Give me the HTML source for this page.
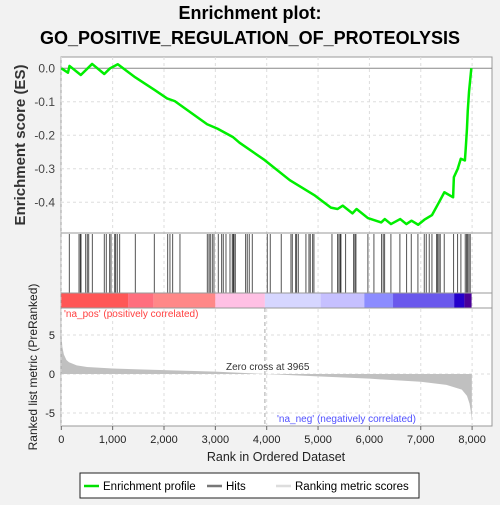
<!DOCTYPE html>
<html><head><meta charset="utf-8"><style>
body{margin:0;background:#f2f2f2;width:500px;height:500px;overflow:hidden;font-family:"Liberation Sans",sans-serif}
</style></head><body>
<svg id="c" width="500" height="500" xmlns="http://www.w3.org/2000/svg" font-family="Liberation Sans, sans-serif">
<text x="250" y="19" text-anchor="middle" font-size="18" font-weight="bold">Enrichment plot:</text>
<text x="250" y="44" text-anchor="middle" font-size="18" font-weight="bold">GO_POSITIVE_REGULATION_OF_PROTEOLYSIS</text>
<rect x="61" y="57" width="431" height="369" fill="#fff" stroke="#999"/>
<g id="grid"></g><g id="marks"></g><g id="axes"></g>
<text transform="translate(25,145) rotate(-90)" text-anchor="middle" font-size="15" font-weight="bold" fill="#333">Enrichment score (ES)</text>
<text transform="translate(37,367) rotate(-90)" text-anchor="middle" font-size="12" fill="#222">Ranked list metric (PreRanked)</text>
<text x="276" y="461" text-anchor="middle" font-size="12.5" fill="#222">Rank in Ordered Dataset</text>
<text x="64" y="317" font-size="10" fill="#ff4040">'na_pos' (positively correlated)</text>
<text x="277" y="422" font-size="10" fill="#5050ff">'na_neg' (negatively correlated)</text>
<text x="226" y="370" font-size="10" fill="#333">Zero cross at 3965</text>
<g>
<rect x="80" y="473" width="339" height="25" fill="#fff" stroke="#222"/>
<line x1="84" y1="486" x2="99" y2="486" stroke="#00e000" stroke-width="2.5"/>
<text x="103" y="490" font-size="11.5">Enrichment profile</text>
<line x1="207" y1="486" x2="222" y2="486" stroke="#777" stroke-width="2.5"/>
<text x="226" y="490" font-size="11.5">Hits</text>
<line x1="276" y1="486" x2="291" y2="486" stroke="#ddd" stroke-width="2.5"/>
<text x="295" y="490" font-size="11.5">Ranking metric scores</text>
</g>
</svg>
<script>
const xTicks=[0,1000,2000,3000,4000,5000,6000,7000,8000];
const xTickLabels=["0","1,000","2,000","3,000","4,000","5,000","6,000","7,000","8,000"];
const esTicks=[0,-0.1,-0.2,-0.3,-0.4];
const esTickLabels=["0.0","-0.1","-0.2","-0.3","-0.4"];
const metricTicks=[5,0,-5];
const hitRanks=[156,345,370,384,475,506,534,604,837,876,942,968,1040,1059,1090,1137,1441,1811,2072,2116,2169,2311,2843,2876,2901,2940,2973,3057,3123,3154,3207,3285,3329,3349,3363,3388,3590,3621,3660,3719,4011,4069,4283,4472,4498,4564,4583,4615,4764,4823,4848,4895,4920,5271,5381,5407,5432,5446,5537,5693,5718,5738,5971,6088,6238,6269,6297,6419,6594,6725,6815,6945,7068,7107,7165,7218,7309,7329,7354,7379,7457,7640,7718,7782,7866,7893,7913,7938,7963];
const esRanks=[0,130,160,380,600,837,950,1100,1440,1820,2060,2210,2840,3040,3340,3470,3960,4450,4940,5250,5380,5480,5670,5750,5970,6230,6300,6420,6600,6720,6820,6950,7070,7220,7355,7460,7630,7645,7720,7780,7860,7880,7900,7915,7940,7985];
const esValues=[0,-0.013,0.007,-0.02,0.013,-0.017,0,0.012,-0.027,-0.065,-0.09,-0.098,-0.167,-0.18,-0.205,-0.222,-0.274,-0.334,-0.38,-0.416,-0.42,-0.41,-0.433,-0.42,-0.447,-0.46,-0.45,-0.465,-0.45,-0.465,-0.455,-0.467,-0.452,-0.438,-0.40,-0.37,-0.385,-0.325,-0.30,-0.27,-0.275,-0.23,-0.18,-0.128,-0.07,0];
const metricRanks=[0,20,50,100,150,300,500,1000,2000,3000,3965,5000,6000,7000,7500,7800,7900,7950,7980,7995];
const metricValues=[5.3,3.5,2.5,1.8,1.5,1.1,0.9,0.7,0.5,0.3,0,-0.3,-0.6,-1.0,-1.4,-2.0,-2.8,-3.8,-5,-6];
const bandStops=[0,1300,1800,3000,3965,5050,5900,6460,7650,7850,7990];
const bandColors=["#ff5656","#ff6e7e","#ff8888","#ffc0e4","#d6d6ff","#c6c0ff","#8c8cff","#6a58ec","#2400cc","#4a0098"];
const X=r=>61.3+r*0.05135;
const YE=v=>68.3-v*335;
const YM=v=>374-v*7.8;
const NS="http://www.w3.org/2000/svg";
function mk(p,t,a){const e=document.createElementNS(NS,t);for(const k in a)e.setAttribute(k,a[k]);p.appendChild(e);return e;}
const grid=document.getElementById('grid'),marks=document.getElementById('marks'),axes=document.getElementById('axes');
xTicks.forEach((t,i)=>{
 const g=mk(grid,'line',{x1:X(t),x2:X(t),y1:57,y2:426,stroke:'#ddd','stroke-dasharray':'3,3'});
 
 
 const tk=mk(axes,'line',{x1:X(t),x2:X(t),y1:426,y2:430,stroke:'#666'});
 
 
 const tx=mk(axes,'text',{x:X(t),y:443,'text-anchor':'middle','font-size':'11',fill:'#222'});
 tx.textContent=xTickLabels[i];
 
 
});
esTicks.forEach((t,i)=>{
 const g=mk(grid,'line',{x1:61,x2:492,y1:YE(t),y2:YE(t),stroke:t===0?'#888':'#ddd','stroke-dasharray':t===0?'':'3,3'});
 
 
 const tx=mk(axes,'text',{x:55,y:YE(t)+4,'text-anchor':'end','font-size':'12',fill:'#444'});
 tx.textContent=esTickLabels[i];
 
 
});
metricTicks.forEach(t=>{
 const g=mk(grid,'line',{x1:61,x2:492,y1:YM(t),y2:YM(t),stroke:'#ddd','stroke-dasharray':'3,3'});
 
 
 const tx=mk(axes,'text',{x:55,y:YM(t)+4,'text-anchor':'end','font-size':'11',fill:'#222'});
 tx.textContent=String(t);
 
 
});
[233,293,308].forEach(y=>{const l=mk(axes,'line',{x1:61,x2:492,y1:y,y2:y,stroke:'#999'});
 
 });
for(let i=0;i<bandColors.length;i++){
 const r=mk(marks,'rect',{x:X(bandStops[i]),y:293.5,width:X(bandStops[i+1])-X(bandStops[i]),height:14.5,fill:bandColors[i]});
 
 
}
hitRanks.forEach(r=>{
 const l=mk(marks,'line',{x1:X(r),x2:X(r),y1:234,y2:293,stroke:'#000','stroke-width':'0.9','stroke-opacity':'0.75'});
 
 
});
let d='M'+X(metricRanks[0])+','+YM(0);
metricRanks.forEach((r,i)=>{d+=' L'+X(r)+','+YM(metricValues[i]);});
d+=' L'+X(metricRanks[metricRanks.length-1])+','+YM(0)+' Z';
const area=mk(marks,'path',{d:d,fill:'#c0c0c0'});


const zl=mk(marks,'line',{x1:X(3965),x2:X(3965),y1:308,y2:426,stroke:'#aaa','stroke-dasharray':'4,3'});


const pts=esRanks.map((r,i)=>X(r)+','+YE(esValues[i])).join(' ');
const es=mk(marks,'polyline',{points:pts,fill:'none',stroke:'#00ee00','stroke-width':'2.5','stroke-linejoin':'round'});


</script>
</body></html>
